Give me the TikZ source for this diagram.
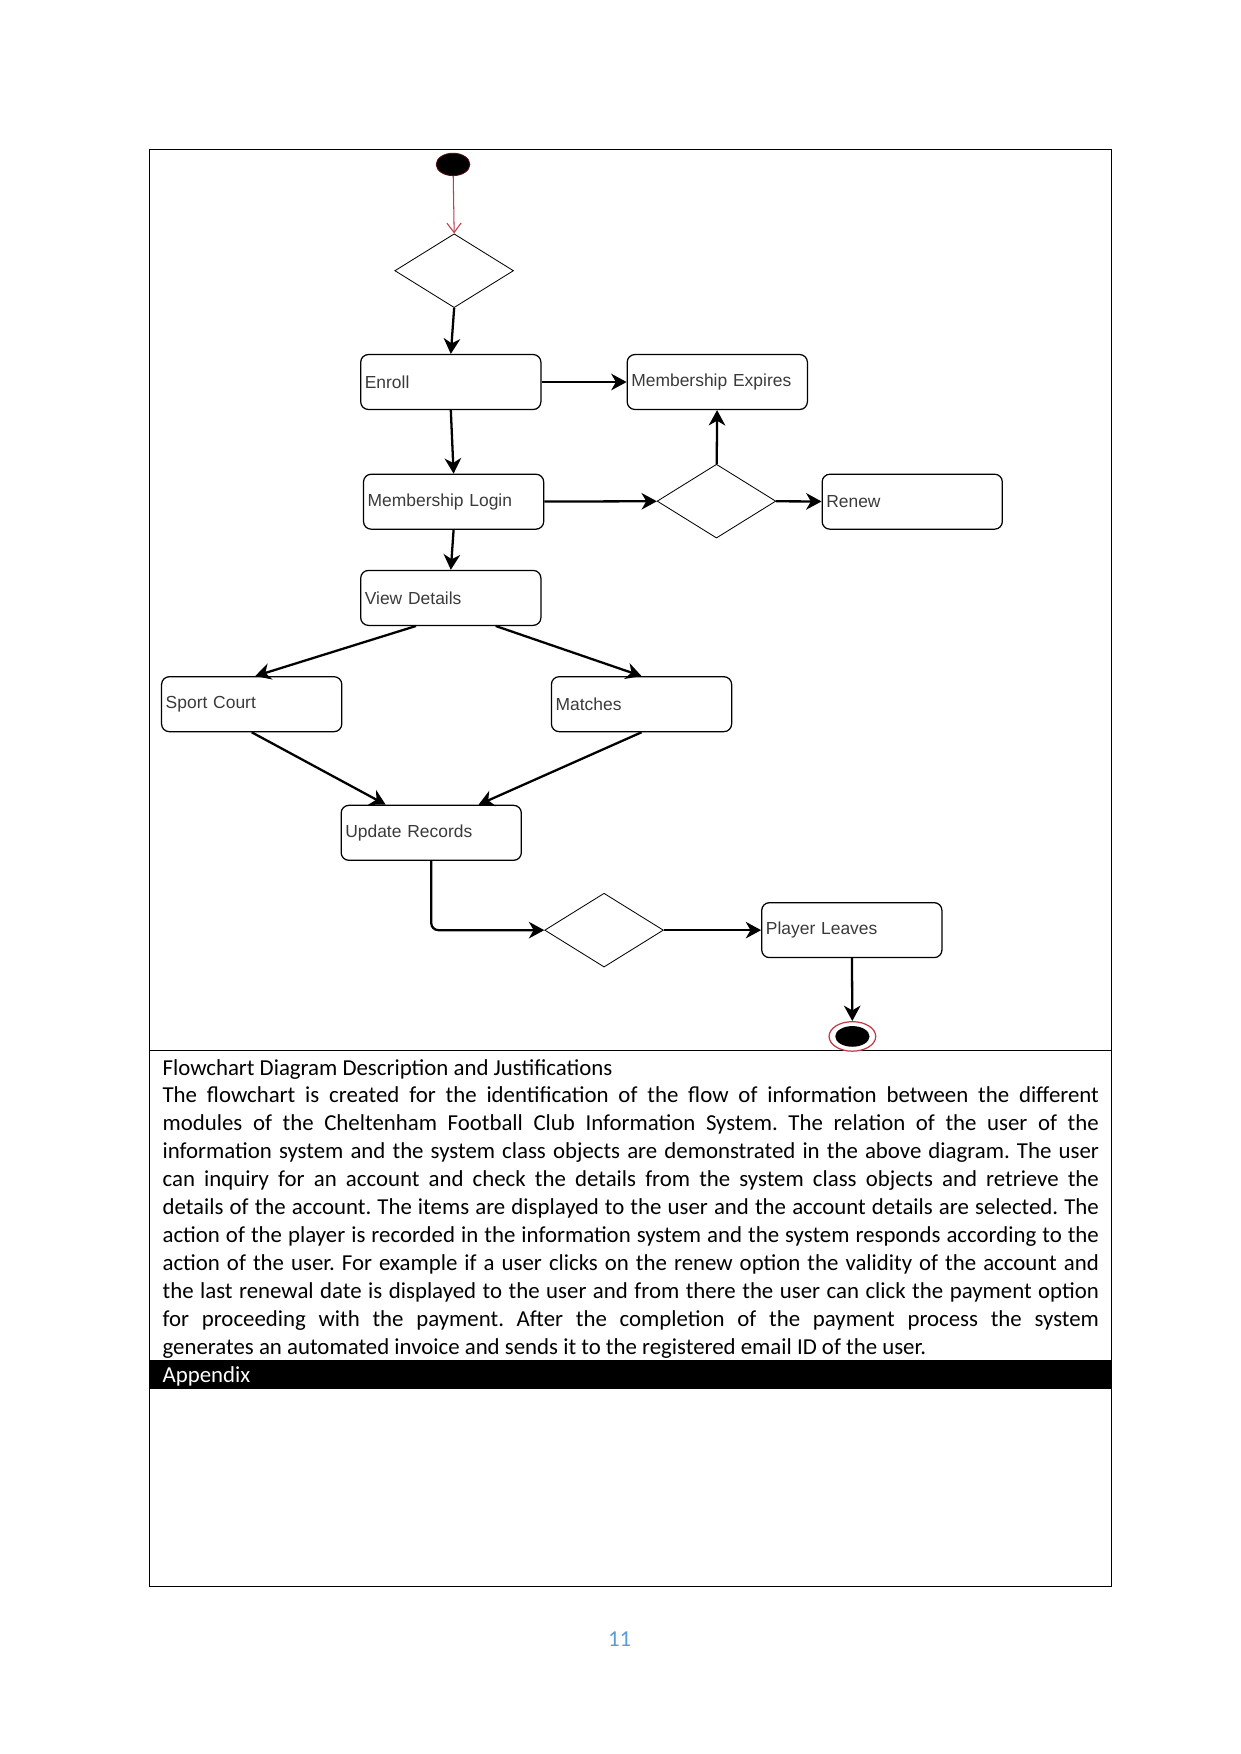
\documentclass[tikz,border=0pt]{standalone}
\usepackage{fontspec}
\setmainfont{Carlito}
\newfontfamily\chartfont{Liberation Sans}
\usepackage{xcolor}
\usepackage{tikz}
\usetikzlibrary{positioning,arrows.meta,shapes.geometric}
\definecolor{flowInk}{HTML}{3A3A3A}
\definecolor{flowRed}{HTML}{C23B4A}
\definecolor{flowMaroon}{HTML}{5A0A12}
\definecolor{pageBlue}{HTML}{5B9BD5}
\tolerance=10000
\hyphenpenalty=10000
\frenchspacing
\tikzset{
  flowbox/.style={draw,rounded corners=1.3mm,line width=0.6pt,minimum width=30.5mm,
    minimum height=9.3mm,text width=29.1mm,inner xsep=0.7mm,align=left,
    font=\chartfont\fontsize{8.4}{10}\selectfont,text=flowInk},
  choice/.style={draw,diamond,line width=0.4pt,minimum width=20.1mm,minimum height=12.5mm,inner sep=0pt},
  flowarrow/.style={-{Stealth[length=2.6mm,width=2.8mm,inset=0.8mm]},line width=1.1pt},
  pageline/.style={line width=0.5pt},
  pagetext/.style={anchor=base west,inner sep=0pt,font=\fontsize{11}{13.47}\selectfont}
}

\begin{document}
\begin{tikzpicture}[x=0.18936mm,y=-0.18936mm]
  \useasboundingbox (0,0) rectangle (1109,1568);
  % page frame
  \draw[pageline] (134,134) rectangle (994,1418);
  \draw[pageline] (134,939) -- (994,939);
  \fill (134,1216) rectangle (994,1242);

  % flowchart
  \node[ellipse,draw=flowMaroon,fill=black,minimum width=5.7mm,minimum height=3.8mm,inner sep=0pt] (start) at (405,147) {};
  \node[choice] (enrollq) at (406,242) {};
  \node[flowbox] (enroll) at (403,341.5) {Enroll};
  \node[flowbox,right=14.4mm of enroll] (expires) {Membership Expires};
  \node[flowbox] (login) at (405.5,448.5) {Membership Login};
  \node[choice] (validq) at (640.5,448) {};
  \node[flowbox] (renew) at (815.5,448.5) {Renew};
  \node[flowbox] (view) at (403,534.5) {View Details};
  \node[flowbox] (sport) at (225,629.5) {Sport Court};
  \node[flowbox] (matches) at (573.5,629.5) {Matches};
  \node[flowbox] (update) at (385.5,744.5) {Update Records};
  \node[choice] (leaveq) at (540,831.5) {};
  \node[flowbox] (leaves) at (761.5,831.5) {Player Leaves};
  \node[ellipse,draw=flowRed,fill=white,line width=0.6pt,minimum width=7.9mm,minimum height=5mm,inner sep=0pt] (finish) at (762,926.5) {};
  \node[ellipse,fill=black,minimum width=5.8mm,minimum height=3.5mm,inner sep=0pt] (finishdot) at (finish) {};

  \draw[-{Straight Barb[length=1.6mm,width=2.4mm]},draw=flowRed,line width=0.5pt] (start) -- (enrollq.north);
  \draw[flowarrow] (enrollq.south) -- (enroll.north);
  \draw[flowarrow] (enroll) -- (expires);
  \draw[flowarrow] (enroll.south) -- (login.north);
  \draw[flowarrow] (login) -- (validq);
  \draw[flowarrow] (validq) -- (expires);
  \draw[flowarrow] (validq) -- (renew);
  \draw[flowarrow] (login.south) -- (view.north);
  \draw[flowarrow] ([xshift=-5.9mm]view.south) -- ([xshift=0.6mm]sport.north);
  \draw[flowarrow] ([xshift=7.6mm]view.south) -- (matches.north);
  \draw[flowarrow] (sport.south) -- ([xshift=-7.7mm]update.north);
  \draw[flowarrow] (matches.south) -- ([xshift=8mm]update.north);
  \draw[flowarrow,rounded corners=1.2mm] (update.south) |- (leaveq.west);
  \draw[-{Stealth[length=2.6mm,width=2.8mm,inset=0.8mm]},line width=0.7pt] (leaveq) -- (leaves);
  \draw[flowarrow] (leaves) -- (finish);

  % description
  \node[pagetext] (heading) at (145,961) {Flowchart Diagram Description and Justifications};
  \node[pagetext,text width=158.5mm,align=justify] (body) at (145,986) {The flowchart is created for the identification of the flow of information between the different\linebreak
    modules of the Cheltenham Football Club Information System. The relation of the user of the\linebreak
    information system and the system class objects are demonstrated in the above diagram. The user\linebreak
    can inquiry for an account and check the details from the system class objects and retrieve the\linebreak
    details of the account. The items are displayed to the user and the account details are selected. The\linebreak
    action of the player is recorded in the information system and the system responds according to the\linebreak
    action of the user. For example if a user clicks on the renew option the validity of the account and\linebreak
    the last renewal date is displayed to the user and from there the user can click the payment option\linebreak
    for proceeding with the payment. After the completion of the payment process the system\linebreak
    generates an automated invoice and sends it to the registered email ID of the user.};
  \node[pagetext,text=white] (appendix) at (145,1236) {Appendix};
  \node[pagetext,anchor=base,text=pageBlue] (pagenum) at (554,1472) {11};
\end{tikzpicture}
\end{document}
